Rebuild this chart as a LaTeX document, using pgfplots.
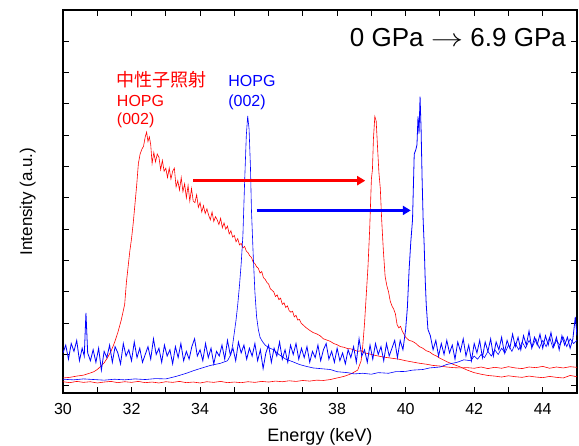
\documentclass[border=0pt]{standalone}
\usepackage{fontspec}
\setmainfont{Liberation Sans}
\newfontfamily\cjk{Noto Sans CJK JP}
\usepackage{pgfplots}
\pgfplotsset{compat=1.18}
\usetikzlibrary{arrows.meta}
\begin{document}
\begin{tikzpicture}
\begin{axis}[
 name=ax,
 scale only axis, width=514pt, height=383pt,
 xmin=30, xmax=45, ymin=-0.23, ymax=12,
 xtick={30,32,...,44}, minor xtick={31,33,...,45},
 ytick={0,...,11}, yticklabels={},
 /pgf/number format/assume math mode=true,
 tick align=inside, major tick length=6pt, minor tick length=6pt,
 axis line style={line width=1.2pt},
 every tick/.style={black, line width=1pt},
 every minor tick/.style={black, line width=1pt},
 xticklabel style={font=\fontsize{16}{16}\selectfont, yshift=-7pt},
 xlabel={Energy (keV)}, ylabel={Intensity (a.u.)},
 x label style={font=\fontsize{18}{18}\selectfont, at={(axis description cs:0.5,0)}, anchor=base, yshift=-48pt},
 y label style={font=\fontsize{17}{17}\selectfont, at={(axis description cs:-0.0603,0.5)}, anchor=base, rotate=0},
]
% red 1: irradiated HOPG, 0 GPa
\addplot[red, line width=0.6pt] coordinates {
(30.0,0.25)(30.2,0.27)(30.4,0.31)(30.6,0.34)(30.8,0.41)(30.9,0.45)(31.0,0.52)(31.1,0.62)(31.2,0.73)(31.3,0.90)
(31.4,1.10)(31.5,1.37)(31.6,1.70)(31.7,2.10)(31.8,2.60)(31.85,3.30)(31.9,3.80)(31.95,4.30)(32.0,4.70)(32.05,5.20)
(32.1,5.80)(32.15,6.40)(32.2,7.10)(32.25,7.40)(32.3,7.55)(32.35,7.65)(32.4,7.95)(32.44,8.10)(32.48,7.80)(32.52,7.95)
(32.56,7.70)(32.6,7.10)(32.65,7.45)(32.7,7.15)(32.75,7.40)(32.8,7.30)(32.85,6.90)(32.9,7.20)(32.95,6.85)(33.0,6.95)
(33.05,6.65)(33.1,6.95)(33.15,6.60)(33.2,6.85)(33.25,6.95)(33.3,6.35)(33.35,6.55)(33.4,6.25)(33.45,6.65)(33.5,6.20)
(33.55,6.45)(33.6,6.00)(33.65,6.40)(33.7,5.90)(33.75,6.30)(33.8,5.90)(33.85,5.85)(33.9,6.10)(33.95,5.70)(34.0,5.85)
(34.05,5.55)(34.1,5.75)(34.15,5.50)(34.2,5.65)(34.25,5.45)(34.3,5.30)(34.35,5.55)(34.4,5.25)(34.45,5.40)(34.5,5.30)
(34.55,5.15)(34.6,5.35)(34.65,5.05)(34.7,5.20)(34.75,5.00)(34.8,5.10)(34.85,4.85)(34.9,4.95)(34.95,4.75)(35.0,4.80)
(35.05,4.60)(35.1,4.70)(35.15,4.50)(35.2,4.55)(35.25,4.40)(35.3,4.45)(35.35,4.30)(35.4,4.25)(35.45,4.15)(35.5,4.10)
(35.55,3.95)(35.6,3.90)(35.65,3.80)(35.7,3.75)(35.75,3.60)(35.8,3.65)(35.85,3.45)(35.9,3.40)(35.95,3.30)(36.0,3.25)
(36.05,3.10)(36.1,3.05)(36.15,3.00)(36.2,2.85)(36.25,2.90)(36.3,2.75)(36.35,2.80)(36.4,2.60)(36.45,2.65)(36.5,2.50)
(36.55,2.55)(36.6,2.40)(36.65,2.35)(36.7,2.38)(36.75,2.20)(36.8,2.25)(36.85,2.10)(36.9,2.12)(36.95,2.00)(37.0,1.95)
(37.1,1.85)(37.2,1.77)(37.3,1.70)(37.4,1.66)(37.5,1.60)(37.6,1.50)(37.7,1.46)(37.8,1.42)(37.9,1.35)(38.0,1.31)
(38.1,1.25)(38.2,1.23)(38.3,1.19)(38.4,1.18)(38.5,1.14)(38.6,1.10)(38.7,1.12)(38.8,1.05)(38.9,1.03)(39.0,1.00)
(39.2,0.95)(39.4,0.91)(39.6,0.88)(39.8,0.85)(40.0,0.80)(40.2,0.76)(40.4,0.72)(40.6,0.69)(40.8,0.65)(41.0,0.63)
(41.2,0.60)(41.4,0.58)(41.6,0.57)(41.8,0.58)(42.0,0.56)(42.2,0.60)(42.4,0.55)(42.6,0.59)(42.8,0.56)(43.0,0.61)
(43.2,0.57)(43.4,0.55)(43.6,0.60)(43.8,0.58)(44.0,0.62)(44.2,0.56)(44.4,0.60)(44.6,0.57)(44.8,0.61)(45.0,0.59)
};
% red 2: irradiated HOPG, 6.9 GPa
\addplot[red, line width=0.6pt] coordinates {
(30.0,0.13)(30.2,0.10)(30.4,0.14)(30.6,0.11)(30.8,0.13)(31.0,0.09)(31.2,0.12)(31.4,0.14)(31.6,0.10)(31.8,0.13)
(32.0,0.11)(32.2,0.14)(32.4,0.10)(32.6,0.12)(32.8,0.09)(33.0,0.13)(33.2,0.11)(33.4,0.14)(33.6,0.10)(33.8,0.12)
(34.0,0.09)(34.2,0.13)(34.4,0.11)(34.6,0.14)(34.8,0.10)(35.0,0.12)(35.2,0.10)(35.4,0.13)(35.6,0.11)(35.8,0.14)
(36.0,0.12)(36.2,0.15)(36.4,0.13)(36.6,0.16)(36.8,0.14)(37.0,0.17)(37.2,0.15)(37.4,0.18)(37.6,0.17)(37.8,0.20)
(38.0,0.25)(38.2,0.30)(38.4,0.38)(38.6,0.50)(38.7,0.80)(38.75,1.30)(38.8,2.00)(38.85,2.90)(38.9,3.80)(38.95,5.00)
(39.0,6.60)(39.03,6.90)(39.06,7.90)(39.1,8.60)(39.14,8.45)(39.18,7.60)(39.22,6.80)(39.26,6.30)(39.3,5.30)(39.35,4.30)
(39.4,3.50)(39.45,3.20)(39.5,3.00)(39.55,2.70)(39.6,2.55)(39.65,2.45)(39.7,2.30)(39.75,1.95)(39.8,1.85)(39.85,1.90)
(39.9,1.75)(40.0,1.55)(40.1,1.45)(40.2,1.42)(40.3,1.35)(40.4,1.25)(40.5,1.20)(40.6,1.12)(40.7,1.08)(40.8,1.00)
(40.9,0.95)(41.0,0.88)(41.2,0.77)(41.4,0.68)(41.6,0.60)(41.8,0.50)(42.0,0.42)(42.2,0.37)(42.4,0.33)(42.6,0.31)
(42.8,0.28)(43.0,0.32)(43.2,0.29)(43.4,0.27)(43.6,0.31)(43.8,0.28)(44.0,0.26)(44.2,0.30)(44.4,0.27)(44.6,0.25)
(44.8,0.33)(45.0,0.29)
};
% blue 1: HOPG, 0 GPa
\addplot[blue, line width=0.6pt] coordinates {
(30.0,0.21)(30.3,0.19)(30.6,0.22)(30.9,0.20)(31.2,0.18)(31.5,0.21)(31.8,0.19)(32.1,0.22)(32.4,0.20)(32.7,0.23)
(33.0,0.22)(33.3,0.30)(33.6,0.40)(33.8,0.48)(34.0,0.55)(34.3,0.65)(34.6,0.72)(34.8,0.80)(34.9,1.00)(34.95,1.30)
(35.0,1.70)(35.05,2.10)(35.1,2.60)(35.15,3.20)(35.2,3.90)(35.25,4.80)(35.3,6.50)(35.35,8.00)(35.39,8.62)(35.43,8.20)
(35.47,7.00)(35.5,5.60)(35.55,4.20)(35.6,3.00)(35.65,2.20)(35.7,1.80)(35.75,1.55)(35.8,1.45)(35.85,1.37)(35.9,1.30)
(36.0,1.22)(36.15,1.15)(36.3,1.00)(36.5,0.85)(36.7,0.77)(36.9,0.68)(37.1,0.62)(37.3,0.57)(37.5,0.55)(37.8,0.52)
(38.0,0.45)(38.3,0.42)(38.5,0.38)(38.75,0.40)(39.0,0.37)(39.2,0.42)(39.5,0.40)(39.7,0.45)(40.0,0.46)(40.2,0.50)
(40.5,0.52)(40.7,0.57)(41.0,0.60)(41.2,0.68)(41.5,0.75)(41.7,0.83)(41.9,0.80)(42.0,0.95)(42.1,0.85)(42.2,1.00)
(42.3,0.90)(42.4,1.10)(42.5,0.95)(42.6,1.15)(42.7,1.00)(42.8,1.20)(42.9,1.05)(43.0,1.30)(43.1,1.10)(43.2,1.35)
(43.3,1.15)(43.4,1.40)(43.5,1.20)(43.6,1.45)(43.7,1.25)(43.8,1.50)(43.9,1.20)(44.0,1.45)(44.1,1.25)(44.2,1.55)
(44.3,1.20)(44.4,1.45)(44.5,1.30)(44.6,1.55)(44.7,1.25)(44.8,1.50)(44.9,1.35)(45.0,1.45)
};
% blue 2: HOPG, 6.9 GPa
\addplot[blue, line width=0.8pt] coordinates {
(30.00,1.05)(30.08,1.30)(30.16,0.85)(30.24,1.35)(30.32,1.10)(30.40,1.45)(30.48,0.80)(30.56,1.20)(30.62,0.95)(30.67,2.33)
(30.72,1.05)(30.80,0.80)(30.88,1.15)(30.96,0.75)(31.04,1.20)(31.12,0.50)(31.20,1.10)(31.28,0.90)(31.36,1.30)(31.44,0.75)
(31.52,1.25)(31.60,1.05)(31.68,0.70)(31.76,1.35)(31.84,0.95)(31.92,1.15)(32.00,0.80)(32.08,1.40)(32.16,0.90)(32.24,1.20)
(32.32,0.75)(32.40,1.00)(32.48,1.25)(32.56,0.85)(32.64,1.50)(32.72,1.00)(32.80,1.20)(32.88,0.75)(32.96,1.30)(33.04,0.95)
(33.12,1.15)(33.20,0.70)(33.28,1.25)(33.36,0.90)(33.44,1.35)(33.52,0.80)(33.60,1.10)(33.68,0.85)(33.76,1.25)(33.84,1.50)
(33.92,0.95)(34.00,1.15)(34.08,0.80)(34.16,1.35)(34.24,0.90)(34.32,1.20)(34.40,0.70)(34.48,1.10)(34.56,0.95)(34.64,1.30)
(34.72,0.85)(34.80,1.45)(34.88,1.00)(34.96,1.20)(35.04,0.80)(35.12,1.40)(35.20,1.05)(35.28,1.30)(35.36,0.85)(35.44,1.20)
(35.52,0.95)(35.60,1.35)(35.68,0.80)(35.76,1.15)(35.84,0.55)(35.92,1.05)(36.00,1.30)(36.08,0.75)(36.16,1.20)(36.24,0.95)
(36.32,1.40)(36.40,0.85)(36.48,1.15)(36.56,0.75)(36.64,1.30)(36.72,1.00)(36.80,1.35)(36.88,0.85)(36.96,1.20)(37.04,0.90)
(37.12,1.25)(37.20,0.75)(37.28,1.10)(37.36,0.90)(37.44,1.30)(37.52,0.80)(37.60,1.15)(37.68,1.35)(37.76,0.85)(37.84,1.10)
(37.92,0.75)(38.00,1.20)(38.08,0.80)(38.16,1.05)(38.24,0.70)(38.32,1.15)(38.40,0.90)(38.48,1.25)(38.56,0.75)(38.64,1.50)
(38.72,0.95)(38.80,1.15)(38.88,0.75)(38.96,1.30)(39.04,0.85)(39.12,1.35)(39.20,1.00)(39.28,1.25)(39.36,0.80)(39.44,1.35)
(39.52,0.95)(39.60,1.20)(39.68,1.45)(39.76,0.90)(39.84,1.45)(39.92,1.15)
(40.00,1.80)(40.05,2.50)(40.10,3.70)(40.15,4.60)(40.20,5.30)(40.25,7.40)(40.30,7.55)(40.33,7.70)(40.36,8.60)(40.39,8.05)
(40.42,9.23)(40.45,8.20)(40.48,6.60)(40.51,5.30)(40.54,4.50)(40.57,3.40)(40.60,2.60)(40.65,1.80)(40.72,1.60)
(40.80,1.15)(40.88,1.45)(40.96,0.95)(41.04,1.35)(41.12,1.00)(41.20,1.45)(41.28,1.05)(41.36,1.30)(41.44,0.85)(41.52,1.40)
(41.60,1.10)(41.68,1.50)(41.76,0.95)(41.84,1.30)(41.92,0.80)(42.00,1.35)(42.08,1.05)(42.16,1.45)(42.24,0.90)(42.32,1.40)
(42.40,1.10)(42.48,1.50)(42.56,0.95)(42.64,1.40)(42.72,1.15)(42.80,1.55)(42.88,1.05)(42.96,1.45)(43.04,1.20)(43.12,1.65)
(43.20,1.25)(43.28,1.55)(43.36,1.15)(43.44,1.60)(43.52,1.30)(43.60,1.75)(43.68,1.20)(43.76,1.55)(43.84,1.30)(43.92,1.65)
(44.00,1.20)(44.08,1.60)(44.16,1.30)(44.24,1.70)(44.32,1.25)(44.40,1.55)(44.48,1.15)(44.56,1.60)(44.64,1.30)(44.72,1.55)
(44.80,1.20)(44.88,1.50)(44.95,2.20)(45.00,1.60)
};
% arrows
\addplot[red, line width=2.6pt, -{Triangle[length=8pt,width=9pt]}, forget plot] coordinates {(33.8,6.55)(38.82,6.55)};
\addplot[blue, line width=2.6pt, -{Triangle[length=8pt,width=9pt]}, forget plot] coordinates {(35.65,5.6)(40.15,5.6)};
% annotations
\node[anchor=base west, red, inner sep=0pt, font=\cjk\fontsize{18}{18}\selectfont] at (axis cs:31.57,9.56) {中性子照射};
\node[anchor=base west, red, inner sep=0pt, font=\fontsize{16}{16}\selectfont] at (axis cs:31.57,8.91) {HOPG};
\node[anchor=base west, red, inner sep=0pt, font=\fontsize{16}{16}\selectfont] at (axis cs:31.57,8.33) {(002)};
\node[anchor=base west, blue, inner sep=0pt, font=\fontsize{16}{16}\selectfont] at (axis cs:34.82,9.55) {HOPG};
\node[anchor=base west, blue, inner sep=0pt, font=\fontsize{16}{16}\selectfont] at (axis cs:34.82,8.93) {(002)};
\node[anchor=base east, inner sep=0pt, font=\fontsize{26}{26}\selectfont] at (axis cs:44.68,10.83) {0 GPa \scalebox{1.3}[1]{$\rightarrow$} 6.9 GPa};
\end{axis}
\pgfresetboundingbox
\path ([xshift=-63pt,yshift=-52pt]ax.south west) rectangle ([xshift=2pt,yshift=10pt]ax.north east);
\end{tikzpicture}
\end{document}
